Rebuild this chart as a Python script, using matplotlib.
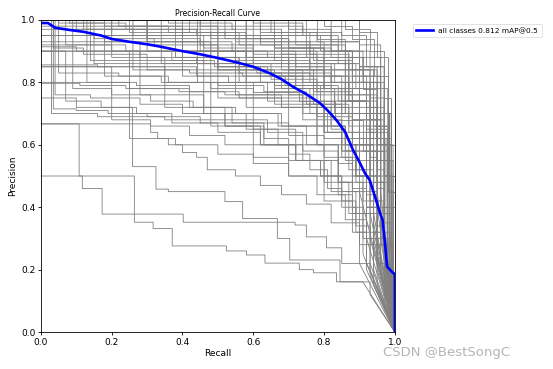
import matplotlib
matplotlib.use("Agg")
import matplotlib.pyplot as plt

# ------------------------------
# all classes curve (blue)
# ------------------------------
all_recall = [0, 0.02, 0.04, 0.08, 0.12, 0.17, 0.2, 0.25, 0.3, 0.33, 0.4, 0.45,
              0.5, 0.55, 0.6, 0.647, 0.68, 0.712, 0.75, 0.788, 0.81, 0.835,
              0.86, 0.882, 0.9, 0.915, 0.929, 0.945, 0.958, 0.965, 0.97,
              0.975, 0.978, 0.99, 1.0, 1.0]
all_precision = [0.99, 0.99, 0.975, 0.968, 0.962, 0.95, 0.939, 0.93, 0.922,
                 0.916, 0.9, 0.89, 0.878, 0.865, 0.85, 0.829, 0.81, 0.786,
                 0.762, 0.734, 0.71, 0.679, 0.64, 0.583, 0.545, 0.51, 0.487,
                 0.43, 0.381, 0.36, 0.31, 0.25, 0.21, 0.195, 0.185, 0.0]
map50 = 0.812

# ------------------------------
# per-class curves (grey), step breakpoints
# ------------------------------
class_recall = [
    [0, 0.45, 0.62, 0.78, 0.9, 0.97, 0.99],
    [0, 0.38, 0.55, 0.72, 0.86, 0.96, 0.985],
    [0, 0.6, 0.74, 0.85, 0.93, 0.98],
    [0, 0.25, 0.48, 0.66, 0.8, 0.9, 0.97],
    [0, 0.7, 0.82, 0.9, 0.95, 0.99],
    [0, 0.8, 0.88, 0.94, 0.98, 1.0],
    [0, 0.52, 0.68, 0.8, 0.88, 0.94, 0.975],
    [0, 0.15, 0.32, 0.5, 0.64, 0.76, 0.87, 0.95],
    [0, 0.07, 0.2, 0.38, 0.55, 0.7, 0.82, 0.92, 0.97],
    [0, 0.035, 0.12, 0.3, 0.46, 0.6, 0.74, 0.86, 0.95],
    [0, 0.1, 0.28, 0.44, 0.58, 0.7, 0.8, 0.9, 0.96],
    [0, 0.16, 0.3, 0.42, 0.57, 0.69, 0.79, 0.88, 0.94],
    [0, 0.05, 0.22, 0.36, 0.5, 0.63, 0.75, 0.85, 0.93],
    [0, 0.11, 0.24, 0.39, 0.52, 0.66, 0.78, 0.88, 0.95],
    [0, 0.035, 0.1, 0.19, 0.3, 0.45, 0.6, 0.72, 0.84, 0.92],
    [0, 0.09, 0.2, 0.31, 0.43, 0.55, 0.67, 0.78, 0.87, 0.94],
    [0, 0.3, 0.46, 0.6, 0.72, 0.83, 0.92, 0.98],
    [0, 0.2, 0.35, 0.5, 0.65, 0.78, 0.88, 0.96],
    [0, 0.55, 0.7, 0.82, 0.91, 0.97, 0.995],
    [0, 0.4, 0.58, 0.7, 0.8, 0.88, 0.95, 0.99],
    [0, 0.13, 0.27, 0.42, 0.56, 0.68, 0.78, 0.86, 0.93],
    [0, 0.18, 0.34, 0.48, 0.6, 0.7, 0.8, 0.9],
    [0, 0.62, 0.76, 0.87, 0.94, 0.985],
    [0, 0.85, 0.92, 0.97, 0.995],
    [0, 0.9, 0.95, 0.98, 1.0],
    [0, 0.72, 0.84, 0.91, 0.96, 0.99],
    [0, 0.34, 0.5, 0.62, 0.74, 0.84, 0.92, 0.97],
    [0, 0.26, 0.4, 0.53, 0.66, 0.77, 0.87, 0.94],
    [0, 0.48, 0.6, 0.72, 0.82, 0.9, 0.96],
    [0, 0.12, 0.26, 0.4, 0.54, 0.66, 0.76, 0.85, 0.92, 0.97],
    [0, 0.22, 0.36, 0.52, 0.66, 0.77, 0.86, 0.93, 0.98],
    [0, 0.04, 0.14, 0.28, 0.4, 0.52, 0.64, 0.74, 0.84, 0.91],
    [0, 0.07, 0.17, 0.27, 0.37, 0.5, 0.62, 0.72, 0.82, 0.9],
    [0, 0.31, 0.33, 0.36, 0.4, 0.44, 0.47, 0.55, 0.62, 0.68, 0.75, 0.82, 0.9, 0.95],
    [0, 0.1, 0.259, 0.325, 0.36, 0.52, 0.57, 0.668, 0.703, 0.845, 0.93],
    [0, 0.264, 0.317, 0.371, 0.524, 0.581, 0.633, 0.73, 0.77, 0.835, 0.91],
    [0, 0.108, 0.117, 0.173, 0.402, 0.718, 0.75, 0.807, 0.85, 0.93],
    [0, 0.2, 0.31, 0.42, 0.52, 0.6, 0.7, 0.8, 0.88, 0.94],
    [0, 0.25, 0.38, 0.5, 0.6, 0.7, 0.78, 0.86, 0.92],
    [0, 0.03, 0.16, 0.35, 0.52, 0.6, 0.7, 0.8, 0.87, 0.93],
    [0, 0.42, 0.56, 0.68, 0.78, 0.86, 0.93, 0.98],
    [0, 0.66, 0.78, 0.88, 0.95, 0.99],
    [0, 0.75, 0.86, 0.93, 0.97, 0.995],
    [0, 0.5, 0.64, 0.76, 0.86, 0.93, 0.985],
    [0, 0.58, 0.7, 0.8, 0.88, 0.95, 0.99],
    [0, 0.08, 0.24, 0.44, 0.62, 0.76, 0.87, 0.95, 0.99],
    [0, 0.36, 0.54, 0.68, 0.79, 0.88, 0.94, 0.985],
    [0, 0.14, 0.3, 0.44, 0.58, 0.7, 0.8, 0.88, 0.94],
    [0, 0.24, 0.37, 0.49, 0.61, 0.72, 0.82, 0.9, 0.96],
    [0, 0.44, 0.6, 0.73, 0.83, 0.91, 0.97, 1.0],
    [0, 0.55, 0.68, 0.78, 0.86, 0.92, 0.97],
    [0, 0.46, 0.6, 0.7, 0.8, 0.88, 0.95],
    [0, 0.9, 0.96, 0.99],
    [0, 0.82, 0.9, 0.96, 0.99],
    [0, 0.3, 0.45, 0.58, 0.7, 0.8, 0.88, 0.95, 0.99],
    [0, 0.2, 0.4, 0.55, 0.65, 0.72, 0.78, 0.82, 0.86, 0.89, 0.92, 0.95, 0.97],
    [0, 0.3, 0.5, 0.62, 0.7, 0.76, 0.81, 0.85, 0.88, 0.91, 0.94, 0.96],
    [0, 0.15, 0.35, 0.5, 0.6, 0.68, 0.75, 0.8, 0.84, 0.88, 0.91, 0.94],
    [0, 0.45, 0.6, 0.7, 0.77, 0.83, 0.87, 0.9, 0.93, 0.95, 0.97, 0.985],
    [0, 0.55, 0.68, 0.76, 0.82, 0.87, 0.9, 0.93, 0.95, 0.97, 0.99],
    [0, 0.4, 0.56, 0.66, 0.74, 0.8, 0.85, 0.89, 0.92, 0.95, 0.975],
    [0, 0.25, 0.42, 0.54, 0.63, 0.7, 0.76, 0.81, 0.85, 0.89, 0.92],
    [0, 0.35, 0.52, 0.63, 0.72, 0.79, 0.84, 0.88, 0.92, 0.95],
    [0, 0.6, 0.72, 0.8, 0.86, 0.9, 0.93, 0.96, 0.98, 0.995],
    [0, 0.65, 0.76, 0.84, 0.89, 0.93, 0.96, 0.98, 0.995],
    [0, 0.5, 0.64, 0.74, 0.8, 0.85, 0.89, 0.92, 0.94, 0.96],
    [0, 0.1, 0.3, 0.48, 0.6, 0.7, 0.77, 0.83, 0.88, 0.92, 0.95, 0.98],
    [0, 0.7, 0.8, 0.87, 0.92, 0.95, 0.97, 0.99],
    [0, 0.38, 0.56, 0.68, 0.76, 0.82, 0.86, 0.9, 0.93, 0.96, 0.98],
    [0, 0.28, 0.46, 0.58, 0.67, 0.74, 0.8, 0.85, 0.89, 0.93],
    [0, 0.78, 0.86, 0.91, 0.95, 0.98, 1.0],
    [0, 0.05, 0.18, 0.4, 0.58, 0.7, 0.8, 0.87, 0.92, 0.96, 0.985],
    [0, 0.48, 0.62, 0.72, 0.79, 0.85, 0.89, 0.92, 0.95, 0.97],
    [0, 0.58, 0.7, 0.78, 0.84, 0.88, 0.92, 0.95, 0.975],
    [0, 0.62, 0.74, 0.82, 0.88, 0.92, 0.95, 0.98, 0.995],
    [0, 0.86, 0.93, 0.97, 0.99, 1.0],
    [0, 0.18, 0.4, 0.56, 0.66, 0.74, 0.8, 0.85, 0.89, 0.92, 0.95],
    [0, 0.68, 0.78, 0.85, 0.9, 0.94, 0.97, 0.99],
]
class_precision = [
    [1, 0.98, 0.96, 0.93, 0.85, 0.5, 0.1],
    [1, 0.97, 0.95, 0.92, 0.88, 0.7, 0.2],
    [1, 0.99, 0.96, 0.9, 0.78, 0.3],
    [1, 0.96, 0.94, 0.91, 0.86, 0.72, 0.25],
    [1, 0.97, 0.93, 0.85, 0.6, 0.15],
    [1, 0.98, 0.94, 0.82, 0.5, 0.2],
    [1, 0.95, 0.93, 0.9, 0.8, 0.62, 0.3],
    [1, 0.94, 0.92, 0.9, 0.88, 0.84, 0.76, 0.45],
    [1, 0.92, 0.9, 0.88, 0.87, 0.85, 0.8, 0.68, 0.3],
    [1, 0.91, 0.89, 0.87, 0.86, 0.84, 0.8, 0.7, 0.4],
    [0.914, 0.9, 0.88, 0.86, 0.85, 0.82, 0.78, 0.7, 0.35],
    [0.856, 0.85, 0.84, 0.83, 0.82, 0.79, 0.74, 0.6, 0.3],
    [1, 0.83, 0.82, 0.8, 0.79, 0.77, 0.73, 0.62, 0.38],
    [0.797, 0.79, 0.78, 0.77, 0.76, 0.73, 0.69, 0.58, 0.3],
    [1, 0.715, 0.71, 0.7, 0.69, 0.67, 0.65, 0.6, 0.5, 0.3],
    [1, 0.78, 0.76, 0.74, 0.72, 0.7, 0.66, 0.6, 0.52, 0.28],
    [1, 0.93, 0.91, 0.89, 0.86, 0.8, 0.65, 0.2],
    [1, 0.88, 0.86, 0.84, 0.81, 0.77, 0.68, 0.3],
    [1, 0.94, 0.91, 0.88, 0.8, 0.55, 0.1],
    [1, 0.9, 0.88, 0.86, 0.82, 0.74, 0.55, 0.12],
    [1, 0.8, 0.79, 0.77, 0.75, 0.72, 0.66, 0.55, 0.3],
    [0.95, 0.82, 0.8, 0.78, 0.75, 0.72, 0.64, 0.45],
    [1, 0.92, 0.89, 0.84, 0.7, 0.25],
    [1, 0.95, 0.85, 0.6, 0.3],
    [1, 0.96, 0.88, 0.6, 0.4],
    [1, 0.95, 0.9, 0.82, 0.6, 0.35],
    [1, 0.86, 0.84, 0.82, 0.79, 0.74, 0.62, 0.3],
    [1, 0.84, 0.82, 0.8, 0.78, 0.73, 0.64, 0.35],
    [1, 0.88, 0.86, 0.83, 0.78, 0.7, 0.45],
    [1, 0.97, 0.95, 0.93, 0.9, 0.87, 0.82, 0.74, 0.55, 0.2],
    [1, 0.98, 0.96, 0.94, 0.91, 0.87, 0.8, 0.64, 0.22],
    [1, 0.76, 0.75, 0.73, 0.7, 0.68, 0.64, 0.58, 0.48, 0.25],
    [0.9, 0.74, 0.72, 0.7, 0.67, 0.64, 0.6, 0.55, 0.45, 0.22],
    [0.667, 0.64, 0.62, 0.6, 0.575, 0.56, 0.52, 0.5, 0.47, 0.44, 0.41, 0.35, 0.28, 0.2],
    [0.75, 0.72, 0.53, 0.458, 0.45, 0.418, 0.364, 0.3, 0.231, 0.161, 0.12],
    [0.5, 0.352, 0.332, 0.276, 0.26, 0.247, 0.221, 0.2, 0.19, 0.161, 0.16],
    [0.667, 0.5, 0.46, 0.378, 0.352, 0.343, 0.305, 0.27, 0.22, 0.2],
    [0.85, 0.68, 0.66, 0.63, 0.6, 0.56, 0.5, 0.42, 0.32, 0.2],
    [0.8, 0.62, 0.6, 0.57, 0.54, 0.5, 0.44, 0.36, 0.22],
    [1, 0.7, 0.69, 0.68, 0.66, 0.6, 0.55, 0.48, 0.38, 0.18],
    [1, 0.96, 0.92, 0.89, 0.84, 0.76, 0.58, 0.15],
    [1, 0.9, 0.87, 0.8, 0.62, 0.08],
    [1, 0.88, 0.84, 0.75, 0.5, 0.05],
    [1, 0.85, 0.83, 0.8, 0.74, 0.62, 0.18],
    [1, 0.82, 0.8, 0.76, 0.7, 0.55, 0.15],
    [1, 0.99, 0.97, 0.95, 0.93, 0.9, 0.84, 0.7, 0.1],
    [1, 0.99, 0.97, 0.95, 0.9, 0.82, 0.66, 0.35],
    [1, 0.87, 0.85, 0.82, 0.8, 0.76, 0.7, 0.6, 0.38],
    [0.92, 0.9, 0.87, 0.85, 0.83, 0.79, 0.72, 0.6, 0.4],
    [1, 0.8, 0.77, 0.74, 0.68, 0.58, 0.4, 0.1],
    [1, 0.76, 0.72, 0.66, 0.6, 0.48, 0.28],
    [0.95, 0.7, 0.67, 0.63, 0.56, 0.45, 0.25],
    [1, 0.92, 0.7, 0.2],
    [1, 0.9, 0.8, 0.6, 0.05],
    [1, 0.94, 0.9, 0.88, 0.84, 0.78, 0.68, 0.5, 0.12],
    [1, 0.95, 0.9, 0.86, 0.82, 0.78, 0.72, 0.66, 0.6, 0.52, 0.44, 0.34, 0.2],
    [1, 0.9, 0.85, 0.8, 0.75, 0.7, 0.64, 0.58, 0.5, 0.42, 0.32, 0.18],
    [0.95, 0.86, 0.8, 0.75, 0.7, 0.66, 0.6, 0.55, 0.48, 0.4, 0.3, 0.15],
    [1, 0.92, 0.88, 0.84, 0.78, 0.72, 0.66, 0.58, 0.5, 0.42, 0.3, 0.15],
    [1, 0.93, 0.9, 0.86, 0.8, 0.74, 0.66, 0.56, 0.46, 0.35, 0.12],
    [0.97, 0.84, 0.8, 0.76, 0.7, 0.64, 0.58, 0.5, 0.4, 0.3, 0.12],
    [0.9, 0.78, 0.72, 0.67, 0.62, 0.57, 0.52, 0.46, 0.4, 0.32, 0.2],
    [0.85, 0.72, 0.66, 0.6, 0.55, 0.5, 0.44, 0.38, 0.3, 0.15],
    [1, 0.9, 0.85, 0.78, 0.7, 0.6, 0.5, 0.4, 0.28, 0.1],
    [1, 0.96, 0.92, 0.86, 0.78, 0.68, 0.55, 0.4, 0.2],
    [0.98, 0.8, 0.74, 0.68, 0.62, 0.56, 0.48, 0.4, 0.32, 0.2],
    [1, 0.97, 0.93, 0.9, 0.86, 0.82, 0.77, 0.7, 0.62, 0.5, 0.38, 0.22],
    [1, 0.88, 0.82, 0.74, 0.64, 0.52, 0.38, 0.2],
    [1, 0.88, 0.83, 0.78, 0.72, 0.65, 0.58, 0.5, 0.42, 0.3, 0.1],
    [0.93, 0.76, 0.7, 0.65, 0.6, 0.55, 0.5, 0.42, 0.34, 0.22],
    [1, 0.94, 0.88, 0.78, 0.66, 0.45, 0.25],
    [1, 0.99, 0.98, 0.96, 0.94, 0.91, 0.86, 0.78, 0.66, 0.48, 0.15],
    [0.9, 0.66, 0.6, 0.55, 0.5, 0.45, 0.38, 0.3, 0.22, 0.1],
    [1, 0.72, 0.66, 0.6, 0.54, 0.46, 0.38, 0.28, 0.12],
    [1, 0.98, 0.95, 0.9, 0.82, 0.72, 0.6, 0.45, 0.2],
    [1, 0.97, 0.9, 0.75, 0.5, 0.3],
    [1, 0.93, 0.88, 0.84, 0.79, 0.74, 0.68, 0.6, 0.5, 0.4, 0.25],
    [0.95, 0.84, 0.78, 0.7, 0.6, 0.48, 0.32, 0.1],
]


def step_xy(r, p):
    # horizontal then vertical steps, last point falls straight to (1, 0)
    xs, ys = [], []
    for i in range(len(r)):
        if i > 0:
            xs.append(r[i])
            ys.append(p[i - 1])
        xs.append(r[i])
        ys.append(p[i])
    xs.append(1.0)
    ys.append(0.0)
    return xs, ys


fig = plt.figure(figsize=(5.53, 3.69), dpi=100)
ax = fig.add_axes([0.074, 0.100, 0.640, 0.846])

for r, p in zip(class_recall, class_precision):
    xs, ys = step_xy(r, p)
    ax.plot(xs, ys, linewidth=0.6, color='grey')

ax.plot(all_recall, all_precision, linewidth=1.9, color='blue',
        label='all classes %.3f mAP@0.5' % map50)

ax.set_xlim(0, 1)
ax.set_ylim(0, 1)
ax.set_xlabel('Recall', fontsize=6.5, labelpad=2)
ax.set_ylabel('Precision', fontsize=6.5, labelpad=3)
ax.set_title('Precision-Recall Curve', fontsize=5.5, pad=3)
ax.tick_params(labelsize=6.5, length=2.5, width=0.6, pad=1.5)
for s in ax.spines.values():
    s.set_linewidth(0.6)

leg = ax.legend(bbox_to_anchor=(1.04, 1), loc='upper left', fontsize=5.3,
                handlelength=2.2, borderpad=0.5)
leg.get_frame().set_linewidth(0.5)

fig.text(0.922, 0.046, 'CSDN @BestSongC', ha='right', va='center',
         fontsize=9.5, color='#b5b5b5')

fig.savefig('out.png', dpi=100)
